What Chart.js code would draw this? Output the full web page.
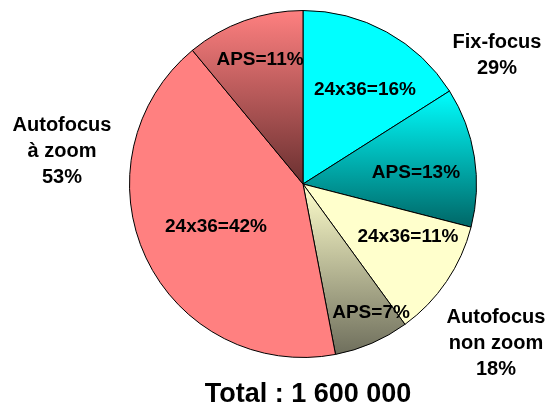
<!DOCTYPE html>
<html>
<head>
<meta charset="utf-8">
<script src="https://cdn.jsdelivr.net/npm/chart.js@4/dist/chart.umd.min.js"></script>
<style>
  html, body { margin: 0; padding: 0; background: #fff; }
  #wrap { width: 548px; height: 408px; }
</style>
</head>
<body>
<div id="wrap"><canvas id="pie" width="548" height="408"></canvas></div>
<script>
// slices, clockwise from 12 o'clock
const sliceLabels = ['24x36=16%', 'APS=13%', '24x36=11%', 'APS=7%', '24x36=42%', 'APS=11%'];
const shares = [16, 13, 11, 7, 42, 11];
const topColors = ['#00FFFF', '#00FFFF', '#FFFFCC', '#FFFFCC', '#FF8080', '#FF8080'];
const bottomColors = [null, '#006666', null, '#6E6E5C', null, '#6A3030'];

// group names shown outside the pie
const groupNames = [['Fix-focus', '29%'], ['Autofocus', 'à zoom', '53%'], ['Autofocus', 'non zoom', '18%']];
const totalText = 'Total : 1 600 000';

const FONT = '"Liberation Sans", Arial, Helvetica, sans-serif';

// where the slice texts sit, as fractions of the radius from the centre
const labelSpots = [[0.356, -0.540], [0.649, -0.063], [0.603, 0.305], [0.391, 0.741], [-0.50, 0.247], [-0.247, -0.713]];

function pieGeom(chart) {
  const a = chart.chartArea;
  return {
    cx: (a.left + a.right) / 2,
    cy: (a.top + a.bottom) / 2,
    r: Math.min(a.right - a.left, a.bottom - a.top) / 2
  };
}

function sliceFill(context) {
  const i = context.dataIndex;
  const chart = context.chart;
  if (!bottomColors[i] || !chart.chartArea) return topColors[i];
  const g = pieGeom(chart);
  const total = shares.reduce((s, v) => s + v, 0);
  let before = 0;
  for (let k = 0; k < i; k++) before += shares[k];
  const a0 = before / total * Math.PI * 2;
  const a1 = (before + shares[i]) / total * Math.PI * 2;
  // y of the slice's points (angle measured clockwise from top)
  let ys = [g.cy, g.cy - g.r * Math.cos(a0), g.cy - g.r * Math.cos(a1)];
  if (a0 <= 0 && a1 >= 0) ys.push(g.cy - g.r);
  if (a0 <= Math.PI && a1 >= Math.PI) ys.push(g.cy + g.r);
  const y0 = Math.min(...ys);
  const y1 = Math.max(...ys);
  const grad = chart.ctx.createLinearGradient(0, y0, 0, y1);
  grad.addColorStop(0, topColors[i]);
  grad.addColorStop(1, bottomColors[i]);
  return grad;
}

const textPlugin = {
  id: 'pieText',
  afterDatasetsDraw(chart) {
    const ctx = chart.ctx;
    const g = pieGeom(chart);
    ctx.save();
    ctx.fillStyle = '#000';
    ctx.textAlign = 'center';
    ctx.textBaseline = 'middle';

    ctx.font = 'bold 19px ' + FONT;
    sliceLabels.forEach((t, i) => {
      ctx.fillText(t, g.cx + labelSpots[i][0] * g.r, g.cy + labelSpots[i][1] * g.r);
    });

    ctx.font = 'bold 20px ' + FONT;
    const lineH = 26;
    const spots = [[g.cx + 194, g.cy - 142], [62, g.cy - 59], [g.cx + 193, g.cy + 133]];
    groupNames.forEach((lines, i) => {
      lines.forEach((t, j) => {
        ctx.fillText(t, spots[i][0], spots[i][1] + j * lineH);
      });
    });

    ctx.font = 'bold 27px ' + FONT;
    ctx.fillText(totalText, g.cx + 5, 395);
    ctx.restore();
  }
};

new Chart(document.getElementById('pie'), {
  type: 'pie',
  data: {
    labels: sliceLabels,
    datasets: [{
      data: shares,
      backgroundColor: sliceFill,
      borderColor: '#000',
      borderWidth: 1
    }]
  },
  options: {
    responsive: false,
    animation: false,
    layout: { padding: { left: 129, right: 71, top: 10, bottom: 50 } },
    plugins: {
      legend: { display: false },
      tooltip: { enabled: false }
    }
  },
  plugins: [textPlugin]
});
</script>
</body>
</html>
